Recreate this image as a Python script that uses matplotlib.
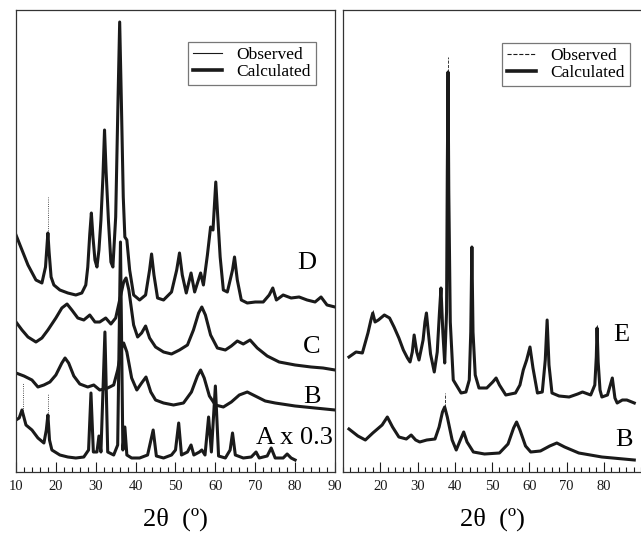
import numpy as np
import matplotlib
matplotlib.use("Agg")
import matplotlib.pyplot as plt
from matplotlib.lines import Line2D

plt.rcParams['font.family'] = ['Liberation Serif', 'DejaVu Serif']

# ---------------- data (2theta in degrees, offset intensity in a.u.) ----------------
tt_D = [10.0, 11.5, 13.0, 15.0, 16.5, 17.4, 17.8, 18.0, 18.3, 18.8, 19.5, 21.0, 23.0, 25.0,
        26.5, 27.5, 28.0, 28.5, 28.9, 29.3, 29.8, 30.3, 30.8, 31.3, 31.8, 32.2, 32.6, 33.2,
        33.8, 34.3, 35.0, 35.6, 36.0, 36.4, 36.9, 37.3, 37.8, 38.5, 39.5, 41.0, 42.5, 43.5,
        44.0, 44.6, 45.5, 47.0, 49.0, 50.3, 51.0, 51.7, 52.7, 53.9, 54.8, 56.3, 57.0, 58.0,
        58.8, 59.4, 60.1, 60.6, 61.2, 62.0, 63.0, 64.3, 64.8, 65.5, 66.5, 68.0, 70.0, 72.0,
        73.5, 74.4, 75.3, 77.0, 79.0, 81.0, 83.0, 85.0, 86.5, 88.0, 90.0]
I_D = [237, 222, 207, 192, 189, 205, 228, 239, 220, 195, 187, 182, 179, 177,
       179, 187, 205, 238, 259, 235, 212, 205, 222, 252, 295, 342, 300, 250,
       210, 205, 255, 375, 450, 375, 275, 235, 232, 202, 177, 172, 177, 202,
       218, 197, 174, 172, 180, 202, 219, 197, 179, 199, 180, 199, 187, 217,
       245, 242, 290, 255, 215, 182, 180, 202, 215, 192, 172, 169, 170, 170,
       177, 184, 172, 177, 174, 175, 172, 170, 175, 167, 165]

tt_C = [10.0, 11.5, 13.0, 15.0, 16.5, 18.0, 20.0, 21.5, 22.8, 24.0, 25.5, 27.0, 28.5, 29.8,
        31.0, 32.5, 33.8, 35.0, 36.0, 37.0, 37.6, 38.3, 39.5, 40.5, 41.5, 42.5, 43.5, 45.0,
        47.0, 49.0, 51.0, 53.0, 54.5, 55.8, 56.6, 57.5, 58.8, 60.5, 62.5, 64.0, 65.5, 67.0,
        68.7, 70.5, 73.0, 76.0, 80.0, 84.0, 87.0, 90.0]
I_C = [150, 142, 135, 130, 134, 142, 154, 164, 168, 162, 154, 152, 157, 150,
       150, 154, 148, 154, 172, 190, 194, 182, 147, 135, 139, 146, 134, 125,
       120, 118, 122, 127, 142, 159, 165, 157, 137, 124, 122, 126, 131, 128,
       132, 124, 116, 110, 107, 105, 104, 102]

tt_B = [10.0, 12.0, 14.0, 15.5, 17.0, 18.5, 20.0, 21.5, 22.3, 23.2, 24.5, 26.0, 28.0, 29.5,
        31.0, 33.0, 34.5, 35.5, 36.5, 37.0, 37.8, 39.0, 40.3, 41.5, 42.6, 43.8, 45.0, 47.0,
        49.5, 52.0, 54.0, 55.5, 56.3, 57.2, 58.5, 60.0, 62.0, 64.0, 66.0, 68.0, 70.0, 72.5,
        75.0, 80.0, 85.0, 90.0]
I_B = [99, 96, 92, 85, 87, 90, 97, 109, 114, 109, 96, 88, 85, 87,
       82, 84, 87, 102, 124, 129, 120, 94, 82, 89, 95, 80, 72, 69,
       67, 69, 80, 96, 102, 94, 76, 67, 65, 70, 77, 80, 76, 71,
       69, 66, 64, 62]

tt_A = [10.0, 10.8, 11.5, 12.5, 14.0, 15.5, 17.0, 17.6, 18.0, 18.4, 19.0, 21.0, 23.0, 25.0,
        27.0, 28.2, 28.8, 29.4, 30.3, 30.8, 31.3, 32.3, 33.0, 34.5, 35.5, 36.2, 36.8, 37.3,
        37.8, 39.0, 41.0, 43.0, 44.4, 45.2, 47.0, 49.0, 50.0, 50.8, 51.5, 53.0, 53.9, 54.6,
        56.0, 56.6, 57.4, 58.3, 59.0, 60.0, 60.8, 62.5, 63.7, 64.3, 65.0, 67.0, 69.0, 70.2,
        71.0, 73.0, 74.0, 75.0, 77.0, 78.0, 79.0, 80.0]
I_A = [52, 54, 62, 47, 42, 34, 29, 42, 57, 32, 22, 17, 15, 14,
       15, 22, 79, 20, 20, 36, 20, 140, 20, 17, 27, 230, 22, 45,
       17, 14, 14, 17, 42, 16, 14, 17, 22, 49, 17, 20, 27, 17,
       20, 22, 17, 55, 20, 86, 16, 14, 22, 39, 17, 14, 15, 20,
       14, 16, 24, 14, 14, 18, 14, 12]

tt_E = [11.6, 13.5, 15.2, 16.7, 17.5, 18.0, 18.6, 19.5, 21.1, 22.5, 23.7, 25.0, 26.2, 27.3,
        28.0, 28.6, 29.1, 29.8, 30.4, 31.5, 32.0, 32.4, 32.9, 33.5, 34.5, 35.3, 35.9, 36.3,
        36.8, 37.3, 37.8, 38.0, 38.2, 38.4, 38.8, 39.6, 41.7, 43.0, 43.9, 44.3, 44.6, 44.9,
        45.5, 46.5, 48.6, 50.2, 51.1, 52.0, 53.7, 56.3, 57.5, 58.4, 59.3, 60.2, 61.0, 62.2,
        63.5, 64.3, 64.8, 65.3, 66.1, 68.0, 70.7, 73.0, 74.3, 76.5, 77.6, 78.0, 78.2, 78.5,
        79.0, 79.5, 81.0, 82.3, 83.0, 83.6, 85.0, 86.2, 88.2]
I_E = [115, 120, 119, 139, 152, 159, 150, 152, 157, 154, 145, 134, 122, 114,
       110, 120, 137, 120, 112, 132, 150, 159, 140, 118, 100, 120, 160, 184,
       140, 109, 160, 300, 400, 280, 150, 92, 79, 80, 92, 140, 225, 140,
       97, 84, 84, 90, 94, 87, 77, 79, 87, 102, 112, 125, 104, 79,
       80, 112, 152, 107, 79, 76, 75, 78, 80, 77, 87, 115, 144, 110,
       82, 75, 77, 94, 74, 69, 72, 72, 69]

tt_B2 = [11.6, 14.0, 16.0, 18.0, 20.5, 21.9, 23.3, 25.0, 27.0, 28.3, 29.5, 30.6, 32.5, 34.7,
         35.8, 36.7, 37.3, 38.0, 39.3, 40.4, 41.5, 42.4, 43.3, 45.0, 48.0, 52.0, 54.3, 55.8,
         56.6, 57.5, 59.0, 60.4, 63.0, 65.5, 67.4, 69.5, 73.3, 79.5, 88.2]
I_B2 = [43, 36, 32, 39, 47, 55, 45, 35, 33, 37, 32, 30, 32, 33,
        45, 60, 65, 55, 32, 22, 32, 40, 30, 20, 18, 19, 28, 44,
        50, 42, 26, 20, 21, 26, 29, 25, 19, 15, 12]

# observed points rising above the calculated profile
spike_x_A = [11.7, 18.0]
spike_top_A = [89, 79]
spike_x_D = [18.0, 36.0]
spike_top_D = [275, 452]
spike_x_E = [18.0, 38.2, 78.2]
spike_top_E = [162, 415, 148]
spike_x_B2 = [37.3]
spike_top_B2 = [79]

left_ticks = [10, 20, 30, 40, 50, 60, 70, 80, 90]
right_ticks = [20, 30, 40, 50, 60, 70, 80]

# ---------------- figure ----------------
W, H = 641, 537
fig = plt.figure(figsize=(W / 100, H / 100), dpi=100)
axL = fig.add_axes([16 / W, (H - 472) / H, 319 / W, 462 / H])
axR = fig.add_axes([343 / W, (H - 472) / H, 298 / W, 462 / H])

ink = '#1a1a1a'
calc_lw = 2.2
obs_lw = 0.6


def draw(ax, x, y, obs_style, sx=None, st=None):
    ax.plot(x, y, color=ink, lw=calc_lw, solid_joinstyle='round')
    ax.plot(x, y, color=ink, lw=obs_lw, ls=obs_style)
    if sx:
        base = np.interp(sx, x, y)
        ax.vlines(sx, base, st, color=ink, lw=obs_lw,
                  linestyles=':' if obs_style == '-' else '--')


draw(axL, tt_D, I_D, '-', spike_x_D, spike_top_D)
draw(axL, tt_C, I_C, '-')
draw(axL, tt_B, I_B, '-')
draw(axL, tt_A, I_A, '-', spike_x_A, spike_top_A)
draw(axR, tt_E, I_E, '--', spike_x_E, spike_top_E)
draw(axR, tt_B2, I_B2, '--', spike_x_B2, spike_top_B2)

axL.set_xlim(10, 90)
axR.set_xlim(11.6, 88.2)
for ax, ticks in ((axL, left_ticks), (axR, right_ticks)):
    ax.set_ylim(0, 462)
    ax.set_yticks([])
    ax.set_xticks(ticks)
    ax.set_xticks(np.arange(10, 91, 2), minor=True)
    ax.tick_params(axis='x', which='major', direction='in', length=7, width=0.8,
                   labelsize=10.5, pad=6, colors=ink)
    ax.tick_params(axis='x', which='minor', direction='in', length=3.5, width=0.8, colors=ink)
    for s in ax.spines.values():
        s.set_linewidth(0.9)
        s.set_color('#333333')
    ax.set_xlabel('2θ  (º)', fontsize=19, labelpad=10)
axR.spines['right'].set_visible(False)

lab_fs = 19
axL.text(82.9, 209, 'D', fontsize=lab_fs, ha='center', va='center')
axL.text(84.2, 125, 'C', fontsize=lab_fs, ha='center', va='center')
axL.text(84.2, 75, 'B', fontsize=lab_fs, ha='center', va='center')
axL.text(89.4, 34, 'A x 0.3', fontsize=lab_fs, ha='right', va='center')
axR.text(84.6, 137, 'E', fontsize=lab_fs, ha='center', va='center')
axR.text(85.4, 32, 'B', fontsize=lab_fs, ha='center', va='center')

for ax, ls, anchor in ((axL, '-', (0.94, 0.931)), (axR, '--', (0.963, 0.929))):
    handles = [Line2D([], [], color=ink, lw=0.8, ls=ls),
               Line2D([], [], color=ink, lw=2.6)]
    leg = ax.legend(handles, ['Observed', 'Calculated'], loc='upper right',
                    bbox_to_anchor=anchor, fontsize=12.5, frameon=True, fancybox=False,
                    handlelength=1.7, handletextpad=0.8, borderpad=0.3,
                    labelspacing=0.05, borderaxespad=0)
    leg.get_frame().set_edgecolor('#555555')
    leg.get_frame().set_linewidth(0.9)

fig.savefig('out.png', dpi=100, facecolor='white')
